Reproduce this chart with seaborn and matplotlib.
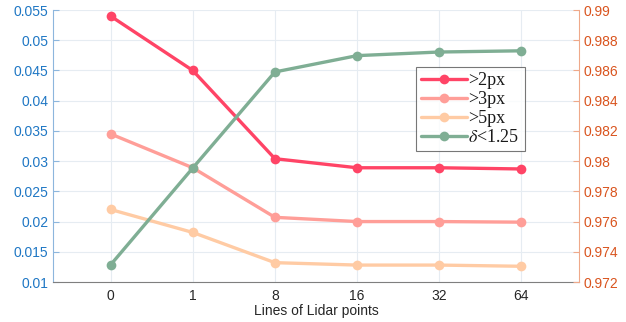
import numpy as np
import pandas as pd
import seaborn as sns
import matplotlib.pyplot as plt

lines = ["0", "1", "8", "16", "32", "64"]
err_2px = [0.0540, 0.0450, 0.0304, 0.0289, 0.0289, 0.0287]
err_3px = [0.0345, 0.0289, 0.0207, 0.0200, 0.0200, 0.0199]
err_5px = [0.0220, 0.0182, 0.0132, 0.0128, 0.0128, 0.0126]
delta = [0.97313, 0.97954, 0.98590, 0.98698, 0.98722, 0.98730]

sns.set_style("white")
plt.rcParams["font.family"] = ["Liberation Sans", "DejaVu Sans"]
plt.rcParams["mathtext.fontset"] = "stix"

pos = np.arange(len(lines))
df = pd.DataFrame({
    "pos": np.tile(pos, 3),
    "val": err_2px + err_3px + err_5px,
    "metric": [">2px"] * 6 + [">3px"] * 6 + [">5px"] * 6,
})
pal = {">2px": "#FF4466", ">3px": "#FF9E98", ">5px": "#FFCBA4"}
c_delta = "#7FAE94"
c_left = "#1F77C4"
c_right = "#D9541E"

fig = plt.figure(figsize=(6.26, 3.22), dpi=100)
ax = fig.add_axes([53 / 626, 40 / 322, 526 / 626, 272 / 322])
sns.lineplot(data=df, x="pos", y="val", hue="metric", palette=pal, marker="o",
             markersize=7, markeredgewidth=0, linewidth=2.4, ax=ax, legend=False)
ax2 = ax.twinx()
sns.lineplot(x=pos, y=delta, color=c_delta, marker="o", markersize=7,
             markeredgewidth=0, linewidth=2.4, ax=ax2, legend=False)

ax.set_xlim(-0.7, 5.7)
ax.set_ylim(0.01, 0.055)
ax2.set_ylim(0.972, 0.99)
ax.set_xticks(pos)
ax.set_xticklabels(lines)
ax.set_yticks(np.arange(0.01, 0.0551, 0.005))
ax.set_yticklabels(["0.01", "0.015", "0.02", "0.025", "0.03", "0.035",
                    "0.04", "0.045", "0.05", "0.055"])
ax2.set_yticks(np.arange(0.972, 0.9901, 0.002))
ax2.set_yticklabels(["0.972", "0.974", "0.976", "0.978", "0.98", "0.982",
                     "0.984", "0.986", "0.988", "0.99"])
ax.set_xlabel("Lines of Lidar points", fontsize=10, color="#262626", labelpad=1)
ax.set_ylabel("")
ax2.set_ylabel("")

ax.grid(True, color="#E6ECF2", linewidth=0.8)
ax.set_axisbelow(True)
for a in (ax, ax2):
    a.spines["top"].set_visible(False)
ax.spines["right"].set_visible(False)
ax2.spines["left"].set_visible(False)
ax2.spines["bottom"].set_visible(False)
ax.spines["left"].set_color("#8DB6DD")
ax.spines["bottom"].set_color("#7F7F7F")
ax2.spines["right"].set_color("#EFA98A")
ax.tick_params(axis="y", direction="in", length=4, colors="#8DB6DD",
               labelcolor=c_left, labelsize=10)
ax.tick_params(axis="x", direction="in", length=4, colors="#7F7F7F",
               labelcolor="#262626", labelsize=10, pad=5)
ax2.tick_params(axis="y", direction="in", length=4, colors="#EFA98A",
                labelcolor=c_right, labelsize=10)

handles = [plt.Line2D([], [], color=pal[k], marker="o", markersize=7,
                      markeredgewidth=0, linewidth=2.4) for k in pal]
handles.append(plt.Line2D([], [], color=c_delta, marker="o", markersize=7,
                          markeredgewidth=0, linewidth=2.4))
labels = [">2px", ">3px", ">5px", r"$\delta$<1.25"]
leg = ax2.legend(handles, labels, loc="upper left",
                 bbox_to_anchor=((416 - 53) / 526, 1 - (67 - 10) / 272),
                 bbox_transform=ax.transAxes,
                 prop={"family": "Liberation Serif", "size": 13},
                 frameon=True, fancybox=False, edgecolor="#555555",
                 handlelength=2.5, handletextpad=0.1, borderpad=0.3,
                 labelspacing=0.1, borderaxespad=0)
leg.get_frame().set_linewidth(0.8)
for t in leg.get_texts():
    t.set_color("#1A1A1A")

fig.savefig("out.png", dpi=100)
